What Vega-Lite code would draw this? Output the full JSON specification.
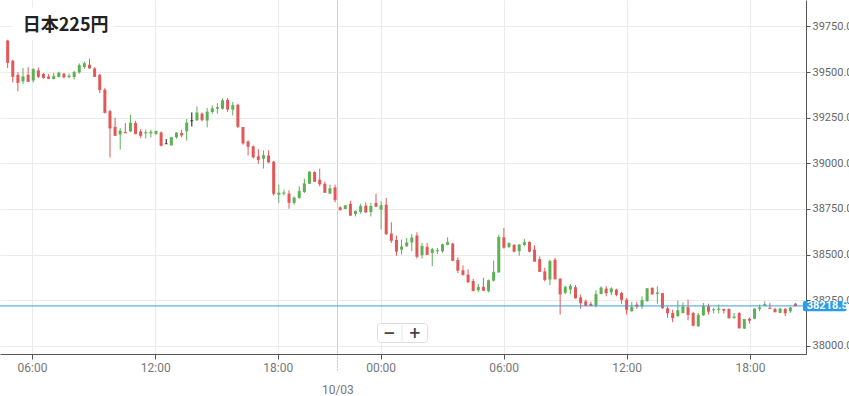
{
 "$schema": "https://vega.github.io/schema/vega-lite/v6.json",
 "width": 806,
 "height": 354,
 "autosize": {"type": "none"},
 "padding": {"left": 0, "top": 0, "right": 43, "bottom": 42},
 "background": "white",
 "config": {"view": {"stroke": null}},
 "data": {"values": [
{"i":0,"o":39673,"h":39677,"l":39522,"c":39553},
{"i":1,"o":39562,"h":39567,"l":39443,"c":39476},
{"i":2,"o":39485,"h":39500,"l":39394,"c":39443},
{"i":3,"o":39449,"h":39522,"l":39434,"c":39474},
{"i":4,"o":39485,"h":39527,"l":39447,"c":39449},
{"i":5,"o":39454,"h":39522,"l":39443,"c":39514},
{"i":6,"o":39509,"h":39524,"l":39467,"c":39476},
{"i":7,"o":39489,"h":39495,"l":39463,"c":39470},
{"i":8,"o":39476,"h":39489,"l":39463,"c":39465},
{"i":9,"o":39462,"h":39496,"l":39460,"c":39476},
{"i":10,"o":39473,"h":39502,"l":39470,"c":39495},
{"i":11,"o":39491,"h":39496,"l":39465,"c":39473},
{"i":12,"o":39473,"h":39492,"l":39465,"c":39478},
{"i":13,"o":39473,"h":39507,"l":39460,"c":39498},
{"i":14,"o":39498,"h":39547,"l":39491,"c":39536},
{"i":15,"o":39527,"h":39558,"l":39518,"c":39547},
{"i":16,"o":39540,"h":39573,"l":39518,"c":39522},
{"i":17,"o":39520,"h":39527,"l":39473,"c":39476},
{"i":18,"o":39485,"h":39489,"l":39385,"c":39403},
{"i":19,"o":39403,"h":39412,"l":39273,"c":39279},
{"i":20,"o":39286,"h":39294,"l":39032,"c":39193},
{"i":21,"o":39200,"h":39250,"l":39150,"c":39153},
{"i":22,"o":39158,"h":39193,"l":39075,"c":39177},
{"i":23,"o":39172,"h":39221,"l":39166,"c":39167},
{"i":24,"o":39175,"h":39266,"l":39171,"c":39221},
{"i":25,"o":39221,"h":39233,"l":39160,"c":39162},
{"i":26,"o":39175,"h":39188,"l":39139,"c":39153},
{"i":27,"o":39164,"h":39184,"l":39136,"c":39169},
{"i":28,"o":39164,"h":39184,"l":39142,"c":39171},
{"i":29,"o":39161,"h":39180,"l":39155,"c":39175},
{"i":30,"o":39169,"h":39175,"l":39093,"c":39098},
{"i":31,"o":39107,"h":39133,"l":39107,"c":39107},
{"i":32,"o":39098,"h":39142,"l":39098,"c":39142},
{"i":33,"o":39142,"h":39171,"l":39136,"c":39166},
{"i":34,"o":39166,"h":39184,"l":39142,"c":39155},
{"i":35,"o":39175,"h":39243,"l":39125,"c":39221},
{"i":36,"o":39233,"h":39279,"l":39202,"c":39233},
{"i":37,"o":39235,"h":39312,"l":39235,"c":39276},
{"i":38,"o":39272,"h":39279,"l":39230,"c":39239},
{"i":39,"o":39235,"h":39303,"l":39197,"c":39281},
{"i":40,"o":39281,"h":39317,"l":39272,"c":39299},
{"i":41,"o":39299,"h":39330,"l":39272,"c":39306},
{"i":42,"o":39299,"h":39356,"l":39294,"c":39343},
{"i":43,"o":39348,"h":39358,"l":39281,"c":39297},
{"i":44,"o":39294,"h":39336,"l":39262,"c":39317},
{"i":45,"o":39321,"h":39326,"l":39193,"c":39202},
{"i":46,"o":39199,"h":39199,"l":39102,"c":39111},
{"i":47,"o":39120,"h":39125,"l":39043,"c":39093},
{"i":48,"o":39093,"h":39098,"l":39025,"c":39035},
{"i":49,"o":39038,"h":39078,"l":38998,"c":39020},
{"i":50,"o":39025,"h":39071,"l":38971,"c":39043},
{"i":51,"o":39043,"h":39071,"l":39002,"c":39007},
{"i":52,"o":39009,"h":39013,"l":38823,"c":38834},
{"i":53,"o":38828,"h":38883,"l":38783,"c":38837},
{"i":54,"o":38834,"h":38856,"l":38824,"c":38838},
{"i":55,"o":38834,"h":38852,"l":38751,"c":38786},
{"i":56,"o":38783,"h":38819,"l":38773,"c":38810},
{"i":57,"o":38810,"h":38874,"l":38806,"c":38846},
{"i":58,"o":38843,"h":38916,"l":38837,"c":38888},
{"i":59,"o":38888,"h":38956,"l":38886,"c":38952},
{"i":60,"o":38952,"h":38956,"l":38898,"c":38901},
{"i":61,"o":38910,"h":38971,"l":38874,"c":38887},
{"i":62,"o":38888,"h":38898,"l":38837,"c":38841},
{"i":63,"o":38834,"h":38883,"l":38832,"c":38861},
{"i":64,"o":38868,"h":38883,"l":38786,"c":38801},
{"i":65,"o":38759,"h":38764,"l":38741,"c":38746},
{"i":66,"o":38750,"h":38769,"l":38749,"c":38768},
{"i":67,"o":38777,"h":38795,"l":38713,"c":38715},
{"i":68,"o":38722,"h":38742,"l":38709,"c":38737},
{"i":69,"o":38733,"h":38779,"l":38724,"c":38764},
{"i":70,"o":38768,"h":38786,"l":38728,"c":38733},
{"i":71,"o":38733,"h":38783,"l":38709,"c":38764},
{"i":72,"o":38783,"h":38834,"l":38762,"c":38764},
{"i":73,"o":38746,"h":38792,"l":38637,"c":38768},
{"i":74,"o":38773,"h":38810,"l":38609,"c":38613},
{"i":75,"o":38615,"h":38677,"l":38564,"c":38578},
{"i":76,"o":38580,"h":38604,"l":38494,"c":38518},
{"i":77,"o":38527,"h":38582,"l":38500,"c":38542},
{"i":78,"o":38545,"h":38591,"l":38543,"c":38564},
{"i":79,"o":38567,"h":38613,"l":38518,"c":38591},
{"i":80,"o":38604,"h":38622,"l":38478,"c":38490},
{"i":81,"o":38496,"h":38564,"l":38478,"c":38545},
{"i":82,"o":38542,"h":38564,"l":38498,"c":38500},
{"i":83,"o":38509,"h":38536,"l":38436,"c":38527},
{"i":84,"o":38518,"h":38536,"l":38503,"c":38523},
{"i":85,"o":38518,"h":38560,"l":38509,"c":38554},
{"i":86,"o":38553,"h":38594,"l":38551,"c":38567},
{"i":87,"o":38560,"h":38564,"l":38463,"c":38468},
{"i":88,"o":38470,"h":38485,"l":38399,"c":38414},
{"i":89,"o":38414,"h":38441,"l":38385,"c":38390},
{"i":90,"o":38390,"h":38418,"l":38345,"c":38350},
{"i":91,"o":38355,"h":38367,"l":38299,"c":38302},
{"i":92,"o":38304,"h":38339,"l":38295,"c":38321},
{"i":93,"o":38323,"h":38372,"l":38302,"c":38304},
{"i":94,"o":38299,"h":38363,"l":38293,"c":38357},
{"i":95,"o":38357,"h":38467,"l":38353,"c":38403},
{"i":96,"o":38403,"h":38609,"l":38399,"c":38594},
{"i":97,"o":38594,"h":38646,"l":38532,"c":38540},
{"i":98,"o":38542,"h":38567,"l":38536,"c":38560},
{"i":99,"o":38554,"h":38556,"l":38512,"c":38518},
{"i":100,"o":38518,"h":38556,"l":38494,"c":38553},
{"i":101,"o":38553,"h":38586,"l":38545,"c":38567},
{"i":102,"o":38569,"h":38572,"l":38512,"c":38518},
{"i":103,"o":38527,"h":38551,"l":38463,"c":38463},
{"i":104,"o":38475,"h":38490,"l":38405,"c":38407},
{"i":105,"o":38408,"h":38427,"l":38353,"c":38363},
{"i":106,"o":38363,"h":38472,"l":38332,"c":38463},
{"i":107,"o":38472,"h":38481,"l":38363,"c":38367},
{"i":108,"o":38367,"h":38372,"l":38171,"c":38284},
{"i":109,"o":38290,"h":38330,"l":38284,"c":38321},
{"i":110,"o":38308,"h":38339,"l":38284,"c":38326},
{"i":111,"o":38321,"h":38332,"l":38259,"c":38262},
{"i":112,"o":38265,"h":38281,"l":38204,"c":38235},
{"i":113,"o":38244,"h":38253,"l":38219,"c":38220},
{"i":114,"o":38230,"h":38241,"l":38218,"c":38220},
{"i":115,"o":38220,"h":38304,"l":38211,"c":38281},
{"i":116,"o":38284,"h":38326,"l":38282,"c":38317},
{"i":117,"o":38313,"h":38326,"l":38271,"c":38290},
{"i":118,"o":38293,"h":38321,"l":38277,"c":38312},
{"i":119,"o":38308,"h":38313,"l":38271,"c":38281},
{"i":120,"o":38290,"h":38297,"l":38230,"c":38253},
{"i":121,"o":38253,"h":38262,"l":38171,"c":38198},
{"i":122,"o":38189,"h":38241,"l":38187,"c":38211},
{"i":123,"o":38226,"h":38241,"l":38202,"c":38216},
{"i":124,"o":38216,"h":38271,"l":38202,"c":38248},
{"i":125,"o":38244,"h":38317,"l":38242,"c":38313},
{"i":126,"o":38317,"h":38321,"l":38280,"c":38284},
{"i":127,"o":38284,"h":38326,"l":38230,"c":38290},
{"i":128,"o":38288,"h":38290,"l":38202,"c":38208},
{"i":129,"o":38206,"h":38216,"l":38153,"c":38180},
{"i":130,"o":38180,"h":38198,"l":38129,"c":38153},
{"i":131,"o":38162,"h":38248,"l":38160,"c":38193},
{"i":132,"o":38180,"h":38238,"l":38177,"c":38213},
{"i":133,"o":38211,"h":38253,"l":38140,"c":38171},
{"i":134,"o":38180,"h":38186,"l":38107,"c":38112},
{"i":135,"o":38107,"h":38180,"l":38104,"c":38167},
{"i":136,"o":38167,"h":38235,"l":38165,"c":38216},
{"i":137,"o":38216,"h":38231,"l":38171,"c":38189},
{"i":138,"o":38195,"h":38208,"l":38177,"c":38198},
{"i":139,"o":38198,"h":38226,"l":38177,"c":38202},
{"i":140,"o":38202,"h":38203,"l":38177,"c":38195},
{"i":141,"o":38202,"h":38204,"l":38149,"c":38153},
{"i":142,"o":38153,"h":38180,"l":38148,"c":38158},
{"i":143,"o":38180,"h":38184,"l":38094,"c":38098},
{"i":144,"o":38094,"h":38146,"l":38093,"c":38144},
{"i":145,"o":38148,"h":38156,"l":38122,"c":38140},
{"i":146,"o":38148,"h":38204,"l":38146,"c":38202},
{"i":147,"o":38202,"h":38226,"l":38189,"c":38208},
{"i":148,"o":38219,"h":38244,"l":38218,"c":38226},
{"i":149,"o":38208,"h":38235,"l":38202,"c":38204},
{"i":150,"o":38202,"h":38208,"l":38184,"c":38186},
{"i":151,"o":38180,"h":38208,"l":38180,"c":38202},
{"i":152,"o":38202,"h":38208,"l":38162,"c":38180},
{"i":153,"o":38189,"h":38213,"l":38180,"c":38208},
{"i":154,"o":38231,"h":38235,"l":38218.5,"c":38218.5}
 ]},
 "layer": [
  {
   "mark": {"type": "rule", "strokeWidth": 1},
   "encoding": {
    "x": {"field": "i", "type": "quantitative", "scale": {"domain": [-0.52, 155.08], "nice": false, "zero": false},
     "axis": {
      "orient": "bottom", "title": null, "zindex": 0,
      "values": [4.75, 28.85, 52.8, 64.45, 72.9, 96.95, 121, 145.1],
      "labelExpr": "datum.value == 64.45 ? '10/03' : (datum.value == 4.75 || datum.value == 96.95) ? '06:00' : (datum.value == 28.85 || datum.value == 121) ? '12:00' : (datum.value == 52.8 || datum.value == 145.1) ? '18:00' : '00:00'",
      "grid": true,
      "gridColor": {"condition": {"test": "datum.value == 64.45", "value": "#d0d0d0"}, "value": "#ebebeb"},
      "domainColor": "#555",
      "tickColor": {"condition": {"test": "datum.value == 64.45", "value": "#999999"}, "value": "#555555"},
      "tickSize": {"condition": {"test": "datum.value == 64.45", "value": 17}, "value": 5},
      "tickDash": {"condition": {"test": "datum.value == 64.45", "value": [1, 2]}, "value": []},
      "labelPadding": {"condition": {"test": "datum.value == 64.45", "value": 13}, "value": 3},
      "labelFont": "Roboto", "labelFontSize": 12, "labelColor": "#777",
      "labelFlush": false, "labelOverlap": false, "labelBound": false
     }},
    "y": {"field": "l", "type": "quantitative", "scale": {"domain": [37955, 39895], "nice": false, "zero": false},
     "axis": {
      "orient": "right", "title": null, "zindex": 0,
      "values": [38000, 38250, 38500, 38750, 39000, 39250, 39500, 39750],
      "format": ".1f",
      "grid": true, "gridColor": "#ebebeb",
      "domainColor": "#555", "tickColor": "#555", "tickSize": 4,
      "labelPadding": 2, "labelFont": "Roboto", "labelFontSize": 11, "labelColor": "#666",
      "labelFlush": false, "labelOverlap": false, "labelBound": false
     }},
    "y2": {"field": "h"},
    "color": {"condition": [{"test": "datum.c > datum.o", "value": "#5cb154"}, {"test": "datum.c < datum.o", "value": "#e25858"}], "value": "#111111"}
   }
  },
  {
   "mark": {"type": "bar", "size": 3},
   "encoding": {
    "x": {"field": "i", "type": "quantitative"},
    "y": {"field": "o", "type": "quantitative"},
    "y2": {"field": "c"},
    "color": {"condition": [{"test": "datum.c > datum.o", "value": "#5cb154"}, {"test": "datum.c < datum.o", "value": "#e25858"}], "value": "#111111"}
   }
  },
  {
   "mark": {"type": "tick", "orient": "horizontal", "size": 3, "thickness": 1},
   "encoding": {
    "x": {"field": "i", "type": "quantitative"},
    "y": {"field": "c", "type": "quantitative"},
    "color": {"condition": [{"test": "datum.c > datum.o", "value": "#5cb154"}, {"test": "datum.c < datum.o", "value": "#e25858"}], "value": "#111111"}
   }
  },
  {
   "data": {"values": [{}]},
   "mark": {"type": "rect", "fill": "white"},
   "encoding": {
    "x": {"datum": 0.83, "type": "quantitative"},
    "x2": {"datum": 20.7},
    "y": {"datum": 39852, "type": "quantitative"},
    "y2": {"datum": 39677}
   }
  },
  {
   "data": {"values": [{}]},
   "mark": {"type": "rule", "color": "#3a9fd5", "strokeWidth": 1},
   "encoding": {
    "y": {"datum": 38218.5, "type": "quantitative"}
   }
  },
  {
   "data": {"values": [{}]},
   "mark": {"type": "rect", "fill": "#2a9ce8", "cornerRadius": 2},
   "encoding": {
    "x": {"datum": 155.46, "type": "quantitative"},
    "x2": {"datum": 164},
    "y": {"datum": 38246, "type": "quantitative"},
    "y2": {"datum": 38189}
   }
  },
  {
   "data": {"values": [{}]},
   "mark": {"type": "text", "text": "38218.5", "color": "white", "font": "Roboto", "fontSize": 11, "fontWeight": "bold", "align": "left", "baseline": "middle"},
   "encoding": {
    "x": {"datum": 156.2, "type": "quantitative"},
    "y": {"datum": 38218.5, "type": "quantitative"}
   }
  },
  {
   "data": {"values": [{}]},
   "mark": {"type": "rect", "fill": "white", "stroke": "#dddddd", "strokeWidth": 1, "cornerRadius": 3},
   "encoding": {
    "x": {"datum": 72.3, "type": "quantitative"},
    "x2": {"datum": 82.1},
    "y": {"datum": 38122, "type": "quantitative"},
    "y2": {"datum": 38018}
   }
  },
  {
   "data": {"values": [{}]},
   "mark": {"type": "rule", "color": "#e6e6e6", "strokeWidth": 1},
   "encoding": {
    "x": {"datum": 77.1, "type": "quantitative"},
    "y": {"datum": 38115, "type": "quantitative"},
    "y2": {"datum": 38025}
   }
  },
  {
   "data": {"values": [{}]},
   "mark": {"type": "text", "text": "−", "color": "#444", "font": "DejaVu Sans", "fontSize": 15, "fontWeight": "bold", "align": "center", "baseline": "middle"},
   "encoding": {
    "x": {"datum": 74.6, "type": "quantitative"},
    "y": {"datum": 38070, "type": "quantitative"}
   }
  },
  {
   "data": {"values": [{}]},
   "mark": {"type": "text", "text": "+", "color": "#444", "font": "DejaVu Sans", "fontSize": 15, "fontWeight": "bold", "align": "center", "baseline": "middle"},
   "encoding": {
    "x": {"datum": 79.6, "type": "quantitative"},
    "y": {"datum": 38070, "type": "quantitative"}
   }
  },
  {
   "data": {"values": [{}]},
   "mark": {"type": "text", "text": "日本225円", "color": "#222", "font": "Noto Sans CJK JP", "fontSize": 18, "fontWeight": "bold", "align": "left", "baseline": "alphabetic"},
   "encoding": {
    "x": {"datum": 2.95, "type": "quantitative"},
    "y": {"datum": 39726, "type": "quantitative"}
   }
  }
 ]
}
